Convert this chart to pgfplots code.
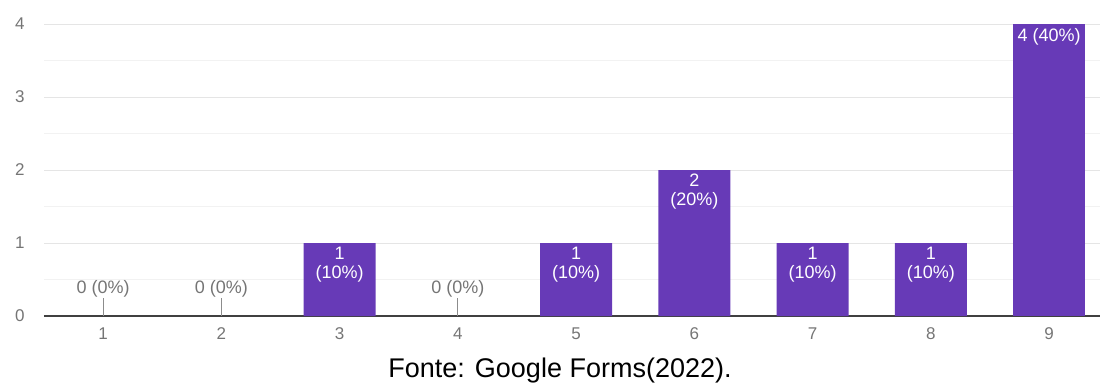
\documentclass[border=0pt]{standalone}
\usepackage{pgfplots}
\pgfplotsset{compat=1.18}
\usepackage{fontspec}
\setmainfont{Liberation Sans}
\definecolor{barc}{HTML}{673AB7}
\definecolor{tk}{HTML}{757575}
\begin{document}
\begin{tikzpicture}
\begin{axis}[name=ax, scale only axis, width=1056pt, height=292pt,
  xmin=0.5, xmax=9.43, ymin=0, ymax=4,
  axis x line*=bottom, axis y line*=left,
  y axis line style={draw=none},
  x axis line style={draw=black!75, line width=1.4pt, -},
  ytick={0,1,2,3,4}, minor ytick={0.5,1.5,2.5,3.5},
  ymajorgrids, yminorgrids,
  major grid style={draw=black!10, line width=0.8pt},
  minor grid style={draw=black!5, line width=0.8pt},
  major tick length=0pt, minor tick length=0pt,
  xtick={1,...,9},
  ticklabel style={font=\fontsize{17}{17}\selectfont, text=tk},
  /pgf/number format/assume math mode=true,
  yticklabel style={xshift=-16pt},
  xticklabel style={yshift=-8pt},
  ybar, bar width=72pt, bar shift=0pt,
  clip=false,
  point meta=explicit symbolic,
  nodes near coords,
]
\addplot[fill=barc, draw=none,
  every node near coord/.append style={anchor=north, align=center, text=white,
    font=\fontsize{18}{19}\selectfont, inner sep=4pt}]
  coordinates {(3,1) [1\\(10\%)] (5,1) [1\\(10\%)] (6,2) [2\\(20\%)] (7,1) [1\\(10\%)] (8,1) [1\\(10\%)]};
\addplot[fill=barc, draw=none,
  every node near coord/.append style={anchor=north, text=white,
    font=\fontsize{18}{19}\selectfont, inner sep=4pt}]
  coordinates {(9,4) [4 (40\%)]};
\addplot[fill=none, draw=none,
  every node near coord/.append style={anchor=south, align=center, text=tk,
    font=\fontsize{18}{20}\selectfont, inner sep=0pt}]
  coordinates {(1,0) [0 (0\%)\\{\color{black!45}\rule{1pt}{18pt}}] (2,0) [0 (0\%)\\{\color{black!45}\rule{1pt}{18pt}}] (4,0) [0 (0\%)\\{\color{black!45}\rule{1pt}{18pt}}]};
\coordinate (bl) at (rel axis cs:0,0);
\end{axis}
\node[anchor=base, font=\fontsize{27}{27}\selectfont] at ([xshift=516pt,yshift=-61pt]bl) {Fonte: Google Forms(2022).};
\pgfresetboundingbox
\path ([xshift=-44pt,yshift=-67pt]bl) rectangle ++(1100pt,383pt);
\end{tikzpicture}
\end{document}
